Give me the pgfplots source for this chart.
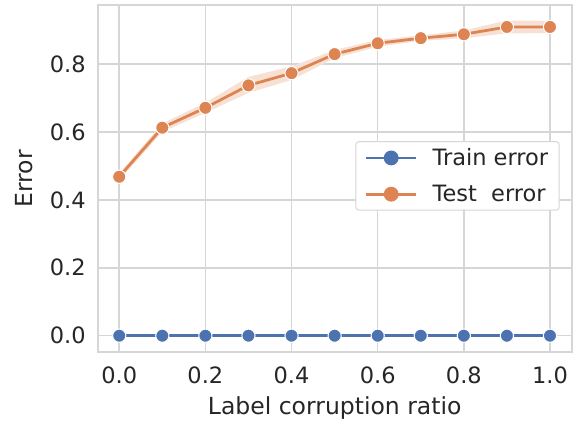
\documentclass[border=0pt]{standalone}
\usepackage{pgfplots}
\pgfplotsset{compat=1.18}
\usepgfplotslibrary{fillbetween}
\usepackage{fontspec}
\setmainfont{DejaVu Sans}
\definecolor{sbblue}{HTML}{4C72B0}
\definecolor{sborange}{HTML}{DD8452}
\definecolor{sbgrid}{HTML}{D6D6D6}
\definecolor{sbtext}{HTML}{262626}
\begin{document}
\begin{tikzpicture}
\begin{axis}[
  scale only axis,
  width=474pt, height=347.3pt,
  xmin=-0.050, xmax=1.0504,
  ymin=-0.0489, ymax=0.9737,
  xtick={0,0.2,0.4,0.6,0.8,1.0},
  ytick={0,0.2,0.4,0.6,0.8},
  xticklabels={0.0,0.2,0.4,0.6,0.8,1.0},
  yticklabels={0.0,0.2,0.4,0.6,0.8},
  major tick length=0pt,
  grid=major,
  grid style={sbgrid, line width=1.5pt},
  axis line style={sbgrid, line width=2pt},
  tick label style={font=\fontsize{22.5}{27}\selectfont, text=sbtext},
  label style={font=\fontsize{23.5}{28}\selectfont, text=sbtext},
  xlabel={Label corruption ratio},
  ylabel={Error},
  xlabel style={at={(axis description cs:0.5,-0.1795)}, anchor=base},
  ylabel style={at={(axis description cs:-0.1545,0.5)}, anchor=center, rotate=0},
  xticklabel style={anchor=north, yshift=-11.2pt},
  yticklabel style={anchor=east, xshift=-8.5pt},
  legend style={at={(0.9747,0.608)}, anchor=north east, draw=sbgrid, line width=1pt,
    rounded corners=3pt, fill=white, font=\fontsize{22.5}{27}\selectfont, text=sbtext,
    inner xsep=9pt, inner ysep=5pt, row sep=14pt,
    /tikz/every odd column/.append style={column sep=13pt}},
  legend cell align=left,
  legend image code/.code={\draw[#1, line width=2.8pt] (0pt,0pt) -- (50pt,0pt); \fill[#1] (25pt,0pt) circle (6pt);},
]
\addplot[name path=up, draw=none, forget plot] coordinates {
(0.0,0.478)(0.1,0.625)(0.2,0.686)(0.3,0.762)(0.4,0.793)(0.5,0.841)(0.6,0.871)(0.7,0.884)(0.8,0.899)(0.9,0.928)(1.0,0.927)};
\addplot[name path=lo, draw=none, forget plot] coordinates {
(0.0,0.458)(0.1,0.600)(0.2,0.656)(0.3,0.715)(0.4,0.753)(0.5,0.817)(0.6,0.851)(0.7,0.868)(0.8,0.876)(0.9,0.890)(1.0,0.891)};
\addplot[sborange!24, forget plot] fill between[of=up and lo];
\addplot[sbblue, line width=2.8pt, mark=*, mark options={fill=sbblue, draw=white, line width=1pt}, mark size=6.6pt] coordinates {
(0.0,0)(0.1,0)(0.2,0)(0.3,0)(0.4,0)(0.5,0)(0.6,0)(0.7,0)(0.8,0)(0.9,0)(1.0,0)};
\addlegendentry{Train error}
\addplot[sborange, line width=2.8pt, mark=*, mark options={fill=sborange, draw=white, line width=1pt}, mark size=6.6pt] coordinates {
(0.0,0.468)(0.1,0.6125)(0.2,0.671)(0.3,0.737)(0.4,0.773)(0.5,0.829)(0.6,0.861)(0.7,0.876)(0.8,0.8875)(0.9,0.909)(1.0,0.909)};
\addlegendentry{Test\ \ error}
\end{axis}
\pgfresetboundingbox
\path[use as bounding box] ([shift={(-97.7pt,-72.7pt)}]current axis.south west) rectangle ([shift={(7.3pt,5pt)}]current axis.north east);
\end{tikzpicture}
\end{document}
